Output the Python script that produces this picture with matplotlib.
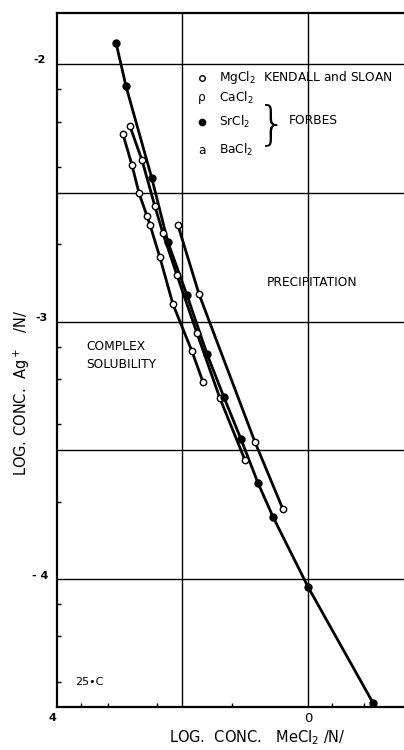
import matplotlib
matplotlib.use("Agg")
from matplotlib import pyplot as plt
import numpy as np

# log conc. MeCl2 (x) vs log conc. Ag+ (y)
mg_x = [-0.737, -0.701, -0.673, -0.641, -0.629, -0.590, -0.538, -0.462, -0.418]
mg_y = [-2.272, -2.392, -2.501, -2.590, -2.625, -2.750, -2.932, -3.115, -3.235]

ca_x = [-0.709, -0.661, -0.610, -0.578, -0.522, -0.442, -0.351, -0.251]
ca_y = [-2.241, -2.373, -2.551, -2.656, -2.819, -3.045, -3.297, -3.538]

sr_x = [-0.765, -0.725, -0.622, -0.558, -0.482, -0.402, -0.335, -0.267, -0.199, -0.139, 0.0, 0.259]
sr_y = [-1.915, -2.085, -2.443, -2.691, -2.897, -3.126, -3.293, -3.456, -3.627, -3.759, -4.03, -4.481]

ba_x = [-0.518, -0.434, -0.211, -0.100]
ba_y = [-2.625, -2.893, -3.468, -3.728]

y_grid = [-2, -2.5, -3, -3.5, -4]
x_grid = [-0.5, 0]
y_minor = [-2.097, -2.222, -2.398, -2.699, -3.097, -3.222, -3.398, -3.699, -4.097, -4.222, -4.398]
x_minor = [-0.903, -0.796, -0.602, -0.301, 0.097, 0.222]

fig = plt.figure(figsize=(4.04, 7.5), dpi=100)
ax = fig.add_axes([57 / 404, 43 / 750, 347 / 404, 694 / 750])
ax.set_xlim(-1.0, 0.3825)
ax.set_ylim(-4.497, -1.80)

for g in y_grid:
    ax.axhline(g, color="black", lw=1.0, zorder=1)
for g in x_grid:
    ax.axvline(g, color="black", lw=1.0, zorder=1)

lw = 2.0
for xs, ys in [(mg_x, mg_y), (ca_x, ca_y), (sr_x, sr_y), (ba_x, ba_y)]:
    ax.plot(xs, ys, color="black", lw=lw, zorder=2, solid_capstyle="round")

ax.plot(mg_x, mg_y, "o", ms=4.6, mfc="white", mec="black", mew=1.0, zorder=3)
ax.plot(ca_x, ca_y, "o", ms=4.6, mfc="white", mec="black", mew=1.0, zorder=3)
ax.plot(ba_x, ba_y, "o", ms=4.6, mfc="white", mec="black", mew=1.0, zorder=3)
ax.plot(sr_x, sr_y, "o", ms=5, mfc="black", mec="black", zorder=4)

for s in ["left", "bottom", "top"]:
    ax.spines[s].set_linewidth(1.6)
ax.spines["right"].set_visible(False)

ax.set_xticks(x_minor)
ax.set_xticklabels([])
ax.set_yticks(y_minor)
ax.set_yticklabels([])
ax.tick_params(direction="in", length=3, width=1.0)

# tick labels
fig.text(52 / 404, 1 - 718 / 750, "4", fontsize=8, ha="center", va="center", weight="bold")
fig.text(308 / 404, 1 - 718 / 750, "0", fontsize=9.5, ha="center", va="center")
fig.text(40 / 404, 1 - 60 / 750, "-2", fontsize=8, ha="center", va="center", weight="bold")
fig.text(41 / 404, 1 - 318 / 750, "-3", fontsize=8, ha="center", va="center", weight="bold")
fig.text(40 / 404, 1 - 576 / 750, "- 4", fontsize=8, ha="center", va="center", weight="bold")

fig.text(257 / 404, 1 - 738 / 750, "LOG.  CONC.   MeCl$_2$ /N/", fontsize=10.5,
         ha="center", va="center")
fig.text(22 / 404, 1 - 393 / 750, "LOG. CONC.  Ag$^+$   /N/", fontsize=10.5,
         ha="center", va="center", rotation=90)

# legend, drawn by hand like the original
fs = 8.8
ax.plot([(202 - 308) / 251], [-2 - (78 - 64) / 257.5], "o", ms=4, mfc="white", mec="black", mew=1.0)
ax.plot([(202 - 308) / 251], [-2 - (122 - 64) / 257.5], "o", ms=4.5, mfc="black", mec="black")
fig.text(202 / 404, 1 - 98 / 750, "\u03c1", fontsize=fs, ha="center", va="center")
fig.text(202 / 404, 1 - 150 / 750, "a", fontsize=fs, ha="center", va="center")
fig.text(219 / 404, 1 - 78 / 750, "MgCl$_2$  KENDALL and SLOAN", fontsize=fs, va="center")
fig.text(219 / 404, 1 - 98 / 750, "CaCl$_2$", fontsize=fs, va="center")
fig.text(219 / 404, 1 - 122 / 750, "SrCl$_2$", fontsize=fs, va="center")
fig.text(219 / 404, 1 - 150 / 750, "BaCl$_2$", fontsize=fs, va="center")
fig.text(257 / 404, 1 - 125 / 750, "}", fontsize=34, va="center", ha="left", weight="light")
fig.text(289 / 404, 1 - 121 / 750, "FORBES", fontsize=fs, va="center")

fig.text(267 / 404, 1 - 283 / 750, "PRECIPITATION", fontsize=fs, va="center")
fig.text(86 / 404, 1 - 346 / 750, "COMPLEX", fontsize=fs, va="center")
fig.text(86 / 404, 1 - 364 / 750, "SOLUBILITY", fontsize=fs, va="center")
fig.text(75 / 404, 1 - 682 / 750, "25\u2022C", fontsize=8, va="center")

fig.savefig("out.png", dpi=100)
